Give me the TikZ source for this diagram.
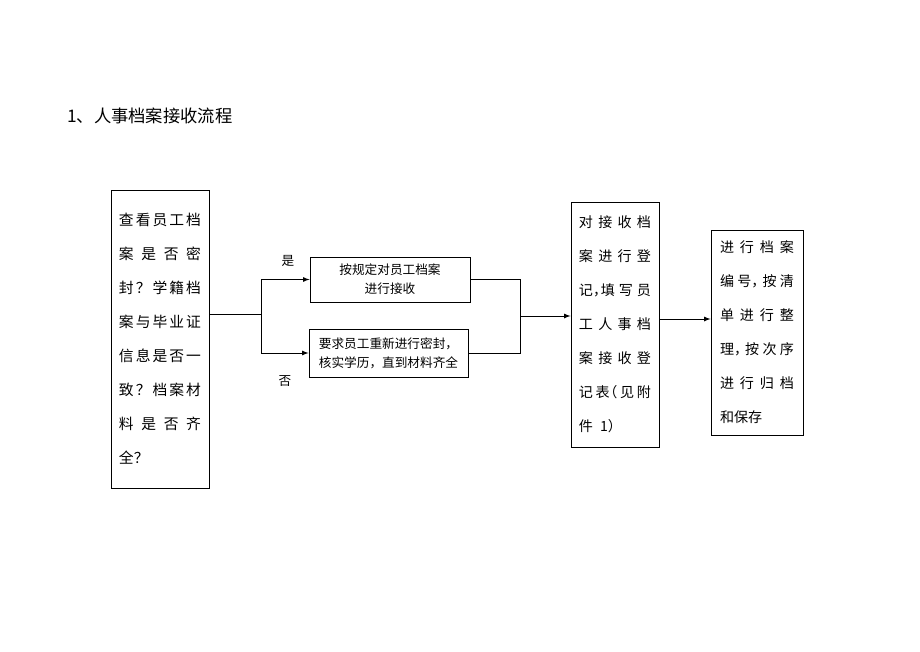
\documentclass[tikz,border=0pt]{standalone}
\usepackage{fontspec}
\setmainfont{Noto Sans CJK SC}
\usetikzlibrary{arrows.meta,positioning}
\newcommand{\ncomma}{\makebox[0.55em][l]{，}}
\newcommand{\nlparen}{\makebox[0.55em][r]{（}}
\newcommand{\nrparen}{\makebox[0.55em][l]{）}}

\begin{document}
\begin{tikzpicture}[x=0.025cm, y=-0.025cm, line width=0.6pt]

	\tikzstyle{tall}=[rectangle, draw, inner sep=0pt, align=left, font=\fontsize{10}{24.2}\selectfont]
	\tikzstyle{flat}=[rectangle, draw, inner sep=0pt, align=center, font=\fontsize{9}{13.5}\selectfont]
	\tikzstyle{lab}=[font=\fontsize{9}{11}\selectfont]

	\useasboundingbox (0,0) rectangle (920,651);

	\node[anchor=west, font=\fontsize{12.3}{14}\selectfont] (title) at (62,116) {1、人事档案接收流程};

	% check box
	\node[tall, font=\fontsize{10.5}{24.2}\selectfont, minimum width=2.45cm, minimum height=7.45cm, text width=2.05cm] (chk) at (160,339) {%
		查\hfill 看\hfill 员\hfill 工\hfill 档\\
		案\hfill 是\hfill 否\hfill 密\\
		封\hfill ？\hfill 学\hfill 籍\hfill 档\\
		案\hfill 与\hfill 毕\hfill 业\hfill 证\\
		信\hfill 息\hfill 是\hfill 否\hfill 一\\
		致\hfill ？\hfill 档\hfill 案\hfill 材\\
		料\hfill 是\hfill 否\hfill 齐\\
		全？\hfill\mbox{}};

	\node[flat, minimum width=4cm, minimum height=1.125cm] (acc) at (390,279.5) {按规定对员工档案\\进行接收};
	\node[flat, minimum width=3.975cm, minimum height=1.2cm] (rej) at (388.5,353) {要求员工重新进行密封，\\核实学历，直到材料齐全};

	\node[lab] (yes) at (288,261) {是};
	\node[lab] (no) at (285,381) {否};

	\node[tall, minimum width=2.2cm, minimum height=6.125cm, text width=1.8cm] (reg) at (615,324.5) {%
		对\hfill 接\hfill 收\hfill 档\\
		案\hfill 进\hfill 行\hfill 登\\
		记\ncomma 填\hfill 写\hfill 员\\
		工\hfill 人\hfill 事\hfill 档\\
		案\hfill 接\hfill 收\hfill 登\\
		记\hfill 表\nlparen\hfill 见\hfill 附\\
		件\enspace 1\nrparen\hfill\mbox{}};

	\node[tall, minimum width=2.3cm, minimum height=5.125cm, text width=1.85cm] (arch) at (757,332.5) {%
		进\hfill 行\hfill 档\hfill 案\\
		编\hfill 号\ncomma\hfill 按\hfill 清\\
		单\hfill 进\hfill 行\hfill 整\\
		理\ncomma\hfill 按\hfill 次\hfill 序\\
		进\hfill 行\hfill 归\hfill 档\\
		和保存\hfill\mbox{}};

	\coordinate (split) at (261,314);
	\coordinate (merge) at (520,316);
	\coordinate (r2a) at (685,319);

	\draw (chk.east |- split) -- (split);
	\draw (split |- acc.west) -- (split |- rej.west);
	\draw[-latex] (split |- acc.west) -- (acc.west);
	\draw[-latex] (split |- rej.west) -- (rej.west);

	\draw (acc.east) -- (merge |- acc.east) -- (merge |- rej.east) -- (rej.east);
	\draw[-latex] (merge) -- (reg.west |- merge);
	\draw[-latex] (reg.east |- r2a) -- (arch.west |- r2a);

\end{tikzpicture}
\end{document}
